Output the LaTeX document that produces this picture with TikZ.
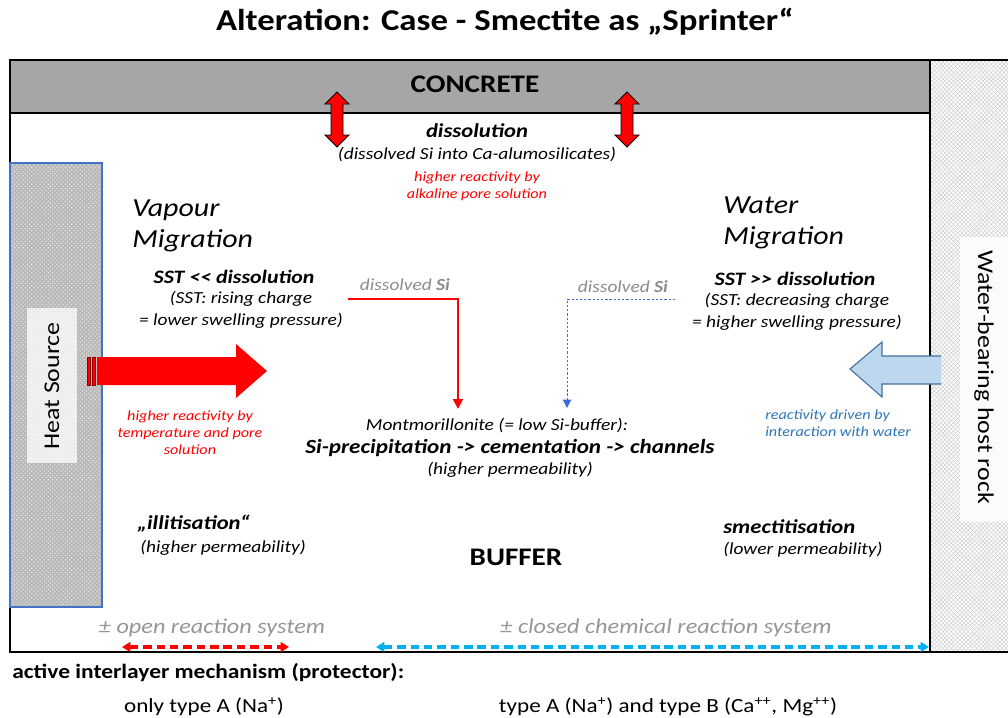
\documentclass[tikz,border=0pt]{standalone}
\usepackage{fontspec}
\setmainfont{Carlito}[FakeStretch=1.15]
\usepackage{tikz}
\usetikzlibrary{arrows.meta,patterns}

\definecolor{concretegray}{RGB}{166,166,166}
\definecolor{heatblue}{RGB}{68,114,196}
\definecolor{waterfill}{RGB}{189,215,238}
\definecolor{waterline}{RGB}{65,113,156}
\definecolor{watertext}{RGB}{46,117,182}
\definecolor{sigray}{RGB}{140,140,140}
\definecolor{sysgray}{RGB}{150,150,150}
\definecolor{closedblue}{RGB}{0,176,240}
\definecolor{dotblue}{RGB}{60,110,210}

\tikzset{
  txt/.style={inner sep=0pt, align=center},
  itl/.style={txt, font=\fontsize{12}{15.5}\selectfont\itshape},
  bfit/.style={txt, font=\fontsize{13.5}{16}\selectfont\bfseries\itshape},
  migr/.style={txt, align=left, font=\fontsize{18.5}{22.5}\selectfont\itshape},
  redsmall/.style={txt, text=red, font=\fontsize{10}{12.2}\selectfont\itshape},
  bluesmall/.style={txt, text=watertext, font=\fontsize{10}{12.2}\selectfont\itshape},
  sitxt/.style={txt, text=sigray, font=\fontsize{12}{14}\selectfont\itshape},
  systxt/.style={txt, text=sysgray, font=\fontsize{15}{18}\selectfont\itshape},
  plain/.style={txt, font=\fontsize{14.3}{16}\selectfont},
  frameline/.style={draw=black, line width=1.2pt},
  dblarrow/.style={fill=red, draw=black, line width=0.7pt},
  redflow/.style={draw=red, line width=1.3pt, -{Triangle[length=7pt,width=7pt]}},
  blueflow/.style={draw=dotblue, line width=0.7pt, dash pattern=on 1.6pt off 1.4pt, -{Triangle[length=6pt,width=6pt]}},
  sysarrow/.style={line width=2.2pt, dash pattern=on 6pt off 3.5pt, {Triangle[length=6pt,width=7pt]}-{Triangle[length=6pt,width=7pt]}},
}

\begin{document}
\begin{tikzpicture}[x=0.025cm,y=-0.025cm]
\useasboundingbox (0,0) rectangle (1008,718);

% title
\node[txt, font=\fontsize{21.5}{24}\selectfont\bfseries] (title) at (505,22) {Alteration: Case - Smectite as „Sprinter“};

% host rock
\fill[white] (930,60) rectangle (1008,652);
\fill[pattern=north east lines, pattern color=gray!35] (930,60) rectangle (1008,652);
\fill[pattern=north west lines, pattern color=gray!35] (930,60) rectangle (1008,652);
\fill[white, opacity=0.85] (960,237) rectangle (1008,522);
\node[txt, rotate=-90, font=\fontsize{16}{18}\selectfont] (hostrock) at (984,377) {Water-bearing host rock};

% concrete and buffer frame
\fill[concretegray] (10,60) rectangle (930,113);
\draw[frameline] (10,113) -- (930,113);
\draw[frameline] (10,60) rectangle (930,652);
\draw[frameline] (930,60) -- (1008,60);
\draw[frameline] (930,652) -- (1008,652);
\node[txt, font=\fontsize{18}{20}\selectfont\bfseries] (concrete) at (475,84) {CONCRETE};

% double arrows concrete <-> buffer
\draw[dblarrow] (337,92) -- (349,104) -- (343,104) -- (343,135) -- (349,135) -- (337,147)
  -- (325,135) -- (331,135) -- (331,104) -- (325,104) -- cycle;
\draw[dblarrow] (627,92) -- (639,104) -- (633,104) -- (633,135) -- (639,135) -- (627,147)
  -- (615,135) -- (621,135) -- (621,104) -- (615,104) -- cycle;

% heat source
\fill[gray!55] (10,163) rectangle (102,607);
\fill[pattern=crosshatch dots, pattern color=white!85!gray] (10,163) rectangle (102,607);
\draw[heatblue, line width=0.8pt] (10,163) rectangle (102,607);
\fill[white, opacity=0.75] (27,308) rectangle (77,463);
\node[txt, rotate=90, font=\fontsize{16}{18}\selectfont] (heat) at (52,386) {Heat Source};

% heat arrow
\fill[red] (97,357) -- (236,357) -- (236,344) -- (267,371) -- (236,398) -- (236,385) -- (97,385) -- cycle;
\filldraw[fill=red, draw=red!55!black, line width=0.3pt] (87,357) rectangle (90.5,385);
\filldraw[fill=red, draw=red!55!black, line width=0.3pt] (92,357) rectangle (95.5,385);

% water arrow
\filldraw[fill=waterfill, draw=waterline, line width=0.8pt] (941,356) -- (882,356) -- (882,342) -- (850,369)
  -- (882,397) -- (882,384) -- (941,384);

% top texts
\node[bfit, font=\fontsize{14}{16}\selectfont\bfseries\itshape] (dissol) at (477,131) {dissolution};
\node[itl] (dissolca) at (477,154) {(dissolved Si into Ca-alumosilicates)};
\node[redsmall] (alkaline) at (477,186) {higher reactivity by\\alkaline pore solution};

% vapour side
\node[migr, anchor=west] (vapour) at (132,226) {Vapour\\Migration};
\node[bfit] (sstless) at (234,277) {SST <\kern0pt< dissolution};
\node[itl] (rising) at (241,310) {(SST: rising charge\\= lower swelling pressure)};
\node[redsmall] (temp) at (190,433) {higher reactivity by\\temperature and pore\\solution};
\node[bfit, anchor=west, font=\fontsize{14}{16}\selectfont\bfseries\itshape] (illit) at (137,524) {„illitisation“};
\node[itl, anchor=west] (illitperm) at (140,548) {(higher permeability)};

% water side
\node[migr, anchor=west] (water) at (723,223) {Water\\Migration};
\node[bfit] (sstmore) at (795,279) {SST >\kern0pt> dissolution};
\node[itl] (decreasing) at (797,312) {(SST: decreasing charge\\= higher swelling pressure)};
\node[bluesmall, anchor=west, align=left] (drivenby) at (765,423) {reactivity driven by\\interaction with water};
\node[bfit, anchor=west, font=\fontsize{14}{16}\selectfont\bfseries\itshape] (smect) at (723,527) {smectitisation};
\node[itl, anchor=west] (smectperm) at (723,550) {(lower permeability)};

% dissolved Si paths
\node[sitxt] (sileft) at (405,285) {dissolved \textbf{Si}};
\node[sitxt] (siright) at (623,287) {dissolved \textbf{Si}};
\coordinate (redstart) at (348,299);
\coordinate (redend) at (458,409);
\coordinate (bluestart) at (675,299);
\coordinate (blueend) at (567,408);
\draw[redflow] (redstart) -| (redend);
\draw[blueflow] (bluestart) -| (blueend);

% centre
\node[itl] (montmor) at (497,425) {Montmorillonite (= low Si-buffer):};
\node[bfit, font=\fontsize{14.3}{16}\selectfont\bfseries\itshape] (siprec) at (510,448) {Si-precipitation -> cementation -> channels};
\node[itl] (centreperm) at (510,470) {(higher permeability)};
\node[txt, font=\fontsize{18}{20}\selectfont\bfseries] (buffer) at (516,557) {BUFFER};

% reaction systems
\node[systxt] (opensys) at (212,628) {± open reaction system};
\node[systxt] (closedsys) at (666,628) {± closed chemical reaction system};
\coordinate (openl) at (122,647);
\coordinate (openr) at (289,647);
\coordinate (closedl) at (376,647);
\coordinate (closedr) at (929,647);
\draw[sysarrow, red] (openl) -- (openr);
\draw[sysarrow, closedblue] (closedl) -- (closedr);

% protector
\node[plain, anchor=west, font=\fontsize{14.5}{16}\selectfont\bfseries] (protector) at (12,673) {active interlayer mechanism (protector):};
\node[plain] (typea) at (204,707) {only type A (Na\textsuperscript{+})};
\node[plain] (typeab) at (668,707) {type A (Na\textsuperscript{+}) and type B (Ca\textsuperscript{++}, Mg\textsuperscript{++})};
\end{tikzpicture}
\end{document}
